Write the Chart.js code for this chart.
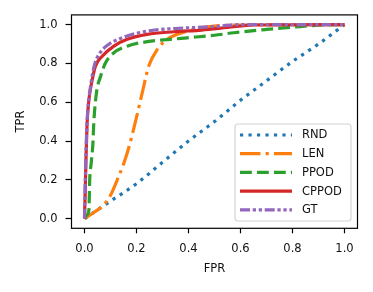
<!DOCTYPE html>
<html>
<head>
<meta charset="utf-8">
<script src="https://cdn.jsdelivr.net/npm/chart.js@4"></script>
<style>
  body { margin: 0; background: #fff; }
  canvas { display: block; }
</style>
</head>
<body>
<canvas id="roc" width="373" height="292"></canvas>
<script>
// ROC curves, values
const tickVals = [0, 0.2, 0.4, 0.6, 0.8, 1.0];

const rndFpr = [0, 0.05, 0.1, 0.2, 0.3, 0.4, 0.5, 0.6, 0.7, 0.8, 0.9, 1.0];
const rndTpr = [0, 0.045, 0.09, 0.18, 0.29, 0.40, 0.50, 0.61, 0.71, 0.81, 0.90, 1.0];

const lenFpr = [0, 0.04, 0.074, 0.1, 0.126, 0.15, 0.17, 0.196, 0.222, 0.247, 0.28, 0.318, 0.357, 0.42, 0.48, 0.6, 0.8, 1.0];
const lenTpr = [0, 0.035, 0.071, 0.12, 0.2, 0.28, 0.364, 0.5, 0.648, 0.786, 0.872, 0.924, 0.95, 0.975, 0.99, 0.998, 1.0, 1.0];

const ppodFpr = [0, 0.01, 0.017, 0.02, 0.026, 0.032, 0.036, 0.046, 0.062, 0.081, 0.113, 0.164, 0.241, 0.33, 0.395, 0.5, 0.574, 0.7, 0.83, 0.9, 1.0];
const ppodTpr = [0, 0.02, 0.045, 0.2, 0.288, 0.38, 0.5, 0.648, 0.734, 0.803, 0.855, 0.889, 0.912, 0.924, 0.932, 0.945, 0.958, 0.975, 0.99, 0.997, 1.0];

const cppodFpr = [0, 0.003, 0.006, 0.01, 0.017, 0.03, 0.042, 0.068, 0.113, 0.164, 0.241, 0.344, 0.45, 0.55, 0.65, 1.0];
const cppodTpr = [0, 0.15, 0.32, 0.49, 0.613, 0.717, 0.786, 0.837, 0.889, 0.924, 0.95, 0.963, 0.972, 0.985, 0.998, 1.0];

const gtFpr = [0, 0.003, 0.007, 0.012, 0.02, 0.03, 0.04, 0.06, 0.08, 0.1, 0.15, 0.2, 0.27, 0.35, 0.5, 0.6, 1.0];
const gtTpr = [0, 0.2, 0.4, 0.55, 0.65, 0.74, 0.8, 0.855, 0.885, 0.905, 0.935, 0.955, 0.972, 0.98, 0.99, 1.0, 1.0];

const toPoints = (xs, ys) => xs.map((x, i) => ({ x: x, y: ys[i] }));

const LW = 3.2;
const FONT = { family: 'DejaVu Sans', size: 11.5 };

// frame around the axes + legend box inside lower right
const framePlugin = {
  id: 'frame',
  afterDatasetsDraw(chart) {
    const ctx = chart.ctx;
    const a = chart.chartArea;

    // legend
    const lx = 235, ly = 124, lw = 116, lh = 97, r = 3;
    ctx.save();
    ctx.beginPath();
    ctx.moveTo(lx + r, ly);
    ctx.arcTo(lx + lw, ly, lx + lw, ly + lh, r);
    ctx.arcTo(lx + lw, ly + lh, lx, ly + lh, r);
    ctx.arcTo(lx, ly + lh, lx, ly, r);
    ctx.arcTo(lx, ly, lx + lw, ly, r);
    ctx.closePath();
    ctx.fillStyle = 'rgba(255,255,255,0.8)';
    ctx.fill();
    ctx.strokeStyle = '#d4d4d4';
    ctx.lineWidth = 1.2;
    ctx.stroke();

    ctx.font = '11.5px "DejaVu Sans"';
    ctx.textBaseline = 'middle';
    ctx.textAlign = 'left';
    chart.data.datasets.forEach((ds, i) => {
      const y = 135 + i * 18.7;
      ctx.beginPath();
      ctx.setLineDash(ds.borderDash || []);
      ctx.lineCap = 'butt';
      ctx.strokeStyle = ds.borderColor;
      ctx.lineWidth = ds.borderWidth;
      ctx.moveTo(240, y);
      ctx.lineTo(292, y);
      ctx.stroke();
      ctx.setLineDash([]);
      ctx.fillStyle = '#111';
      ctx.fillText(ds.label, 302, y + 0.5);
    });

    // axes frame
    ctx.strokeStyle = '#000';
    ctx.lineWidth = 1.2;
    ctx.strokeRect(a.left, a.top, a.right - a.left, a.bottom - a.top);
    ctx.restore();
  }
};

const ctx = document.getElementById('roc').getContext('2d');
new Chart(ctx, {
  type: 'scatter',
  data: {
    datasets: [
      {
        label: 'RND',
        data: toPoints(rndFpr, rndTpr),
        borderColor: '#1f77b4',
        borderDash: [LW, LW * 1.65],
        order: 5
      },
      {
        label: 'LEN',
        data: toPoints(lenFpr, lenTpr),
        borderColor: '#ff7f0e',
        borderDash: [LW * 6.4, LW * 1.6, LW, LW * 1.6],
        order: 4
      },
      {
        label: 'PPOD',
        data: toPoints(ppodFpr, ppodTpr),
        borderColor: '#2ca02c',
        borderDash: [LW * 3.7, LW * 1.6],
        order: 3
      },
      {
        label: 'CPPOD',
        data: toPoints(cppodFpr, cppodTpr),
        borderColor: '#d62728',
        borderDash: [],
        order: 2
      },
      {
        label: 'GT',
        data: toPoints(gtFpr, gtTpr),
        borderColor: '#9467bd',
        borderDash: [10, 2.7, 3.3, 2.7, 3.3, 2.7],
        order: 1
      }
    ].map(ds => Object.assign(ds, {
      showLine: true,
      borderWidth: LW,
      borderCapStyle: 'butt',
      pointRadius: 0,
      fill: false,
      cubicInterpolationMode: 'monotone'
    }))
  },
  options: {
    responsive: false,
    animation: false,
    devicePixelRatio: 1,
    layout: { padding: { left: 0, right: 15.5, top: 14.5, bottom: 0 } },
    plugins: {
      legend: { display: false },
      tooltip: { enabled: false }
    },
    scales: {
      x: {
        type: 'linear',
        min: -0.05,
        max: 1.05,
        afterBuildTicks: s => { s.ticks = tickVals.map(v => ({ value: v })); },
        afterFit: s => { s.height = 292 - 228.3; },
        ticks: {
          color: '#111',
          font: FONT,
          padding: 9,
          maxRotation: 0,
          callback: v => v.toFixed(1)
        },
        grid: {
          drawOnChartArea: false,
          drawTicks: true,
          tickLength: 5,
          tickColor: '#000',
          tickWidth: 1.2
        },
        border: { display: false },
        title: {
          display: true,
          text: 'FPR',
          color: '#111',
          font: FONT,
          padding: { top: 0, bottom: 15.8 }
        }
      },
      y: {
        type: 'linear',
        min: -0.05,
        max: 1.05,
        afterBuildTicks: s => { s.ticks = tickVals.map(v => ({ value: v })); },
        afterFit: s => { s.width = 71.5; },
        ticks: {
          color: '#111',
          font: FONT,
          padding: 8,
          callback: v => v.toFixed(1)
        },
        grid: {
          drawOnChartArea: false,
          drawTicks: true,
          tickLength: 6,
          tickColor: '#000',
          tickWidth: 1.2
        },
        border: { display: false },
        title: {
          display: true,
          text: 'TPR',
          color: '#111',
          font: FONT,
          padding: { top: 14, bottom: 0 }
        }
      }
    }
  },
  plugins: [framePlugin]
});
</script>
</body>
</html>
